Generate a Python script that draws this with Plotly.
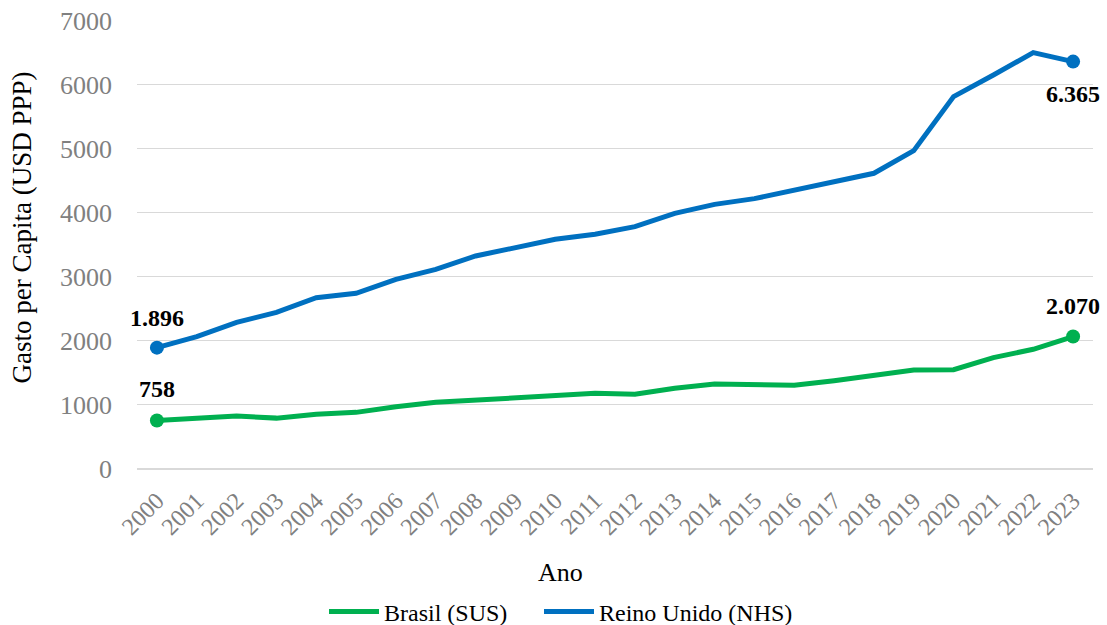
import plotly.graph_objects as go

anos = [str(a) for a in range(2000, 2024)]
brasil = [758, 792, 828, 795, 854, 885, 974, 1042, 1078, 1120, 1141, 1182,
          1167, 1260, 1328, 1323, 1307, 1380, 1464, 1547, 1552, 1740, 1870, 2070]
reino_unido = [1896, 2067, 2290, 2448, 2677, 2745, 2964, 3120, 3328, 3458, 3589, 3667,
               3786, 3995, 4135, 4224, 4359, 4490, 4620, 4974, 5818, 6156, 6505, 6365]
rotulos_br = {0: "758", 23: "2.070"}
rotulos_uk = {0: "1.896", 23: "6.365"}

VERDE = "#00B050"
AZUL = "#0070C0"
FONT = "Liberation Serif"

def marker_sizes(n, ends):
    return [14 if i in ends else 0 for i in range(n)]

fig = go.Figure()
fig.add_trace(go.Scatter(
    x=anos, y=brasil, name="Brasil (SUS)", mode="lines+markers",
    line=dict(color=VERDE, width=5), legend="legend",
    marker=dict(color=VERDE, size=marker_sizes(len(anos), rotulos_br), opacity=1,
                line=dict(width=0)),
))
fig.add_trace(go.Scatter(
    x=anos, y=reino_unido, name="Reino Unido (NHS)", mode="lines+markers",
    line=dict(color=AZUL, width=5), legend="legend2",
    marker=dict(color=AZUL, size=marker_sizes(len(anos), rotulos_uk), opacity=1,
                line=dict(width=0)),
))

lab_font = dict(family=FONT, size=24, color="black")
ann = []
# category axis: annotations addressed by the category's index
for i, t in rotulos_br.items():
    ann.append(dict(xref="x", yref="y", x=i, y=brasil[i], text="<b>%s</b>" % t,
                    showarrow=False, yshift=31, xanchor="center", yanchor="middle",
                    font=lab_font))
ann.append(dict(xref="x", yref="y", x=0, y=reino_unido[0],
                text="<b>%s</b>" % rotulos_uk[0], showarrow=False, yshift=30,
                xanchor="center", yanchor="middle", font=lab_font))
ann.append(dict(xref="x", yref="y", x=23, y=reino_unido[23],
                text="<b>%s</b>" % rotulos_uk[23], showarrow=False, yshift=-32,
                xanchor="center", yanchor="middle", font=lab_font))
ann.append(dict(xref="paper", yref="paper", x=(560 - 137) / 956, y=-(572 - 469) / 448,
                xanchor="center", yanchor="middle",
                text="Ano", showarrow=False, font=dict(family=FONT, size=26, color="black")))
ann.append(dict(xref="paper", yref="paper", x=-(137 - 22) / 956, y=(469 - 228) / 448,
                xanchor="center", yanchor="middle",
                text="Gasto per Capita (USD PPP)", textangle=-90, showarrow=False,
                font=dict(family=FONT, size=27, color="black")))

leg_common = dict(orientation="h", xref="container", yref="container",
                  y=13 / 625, xanchor="left", yanchor="middle",
                  font=dict(family=FONT, size=24, color="black"),
                  itemwidth=50, bgcolor="rgba(0,0,0,0)")

fig.update_layout(
    width=1107, height=625,
    margin=dict(l=137, r=14, t=20, b=156, autoexpand=False),
    plot_bgcolor="white", paper_bgcolor="white",
    font=dict(family=FONT, size=24, color="black"),
    showlegend=True,
    legend=dict(x=324 / 1107, **leg_common),
    legend2=dict(x=539 / 1107, **leg_common),
    annotations=ann,
    xaxis=dict(type="category", range=[-0.5, 23.5], tickangle=-45, automargin=False,
               showgrid=False, showline=False, zeroline=False, ticklabelstandoff=12,
               tickfont=dict(family=FONT, size=24, color="#808080")),
    yaxis=dict(range=[0, 7015], dtick=1000, showgrid=True, gridcolor="#D9D9D9",
               gridwidth=1, zeroline=True, zerolinecolor="#D9D9D9", zerolinewidth=1.5,
               showline=False, ticklabelstandoff=24, automargin=False,
               tickfont=dict(family=FONT, size=26, color="#808080")),
)

fig.write_html("out.html", config={"displayModeBar": False},
               post_script="document.body.style.margin='0';")
